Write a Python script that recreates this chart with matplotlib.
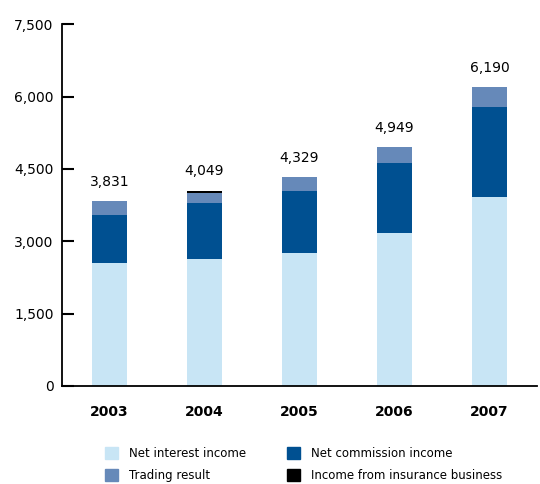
import numpy as np
import matplotlib
matplotlib.use("Agg")
import matplotlib.pyplot as plt
from matplotlib.patches import Patch

years = ["2003", "2004", "2005", "2006", "2007"]
net_interest = [2550, 2631, 2760, 3176, 3922]
net_commission = [993, 1161, 1284, 1445, 1859]
trading = [288, 207, 285, 328, 409]
insurance = [0, 50, 0, 0, 0]
y_ticks = [0, 1500, 3000, 4500, 6000, 7500]

c_interest = "#C8E5F5"
c_commission = "#005091"
c_trading = "#6689B9"
c_insurance = "#000000"

fig = plt.figure(figsize=(5.4, 4.84), dpi=100)
ax = fig.add_axes([0.1148, 0.2025, 0.8796, 0.7475])

x = np.arange(len(years))
w = 0.36
b1 = np.array(net_interest)
b2 = b1 + np.array(net_commission)
b3 = b2 + np.array(trading)
ax.bar(x, net_interest, w, color=c_interest)
ax.bar(x, net_commission, w, bottom=b1, color=c_commission)
ax.bar(x, trading, w, bottom=b2, color=c_trading)
ax.bar(x, insurance, w, bottom=b3, color=c_insurance)

# totals above each bar
totals = b3 + np.array(insurance)
for xi, t in zip(x, totals):
    ax.annotate(f"{t:,}", (xi, t), xytext=(0, 9), textcoords="offset points",
                ha="center", va="bottom", fontsize=10)

ax.set_xlim(-0.5, 4.5)
ax.set_ylim(0, 7500)
ax.set_yticks(y_ticks)
ax.set_yticklabels([f"{v:,}" for v in y_ticks], fontsize=10)
ax.set_xticks(x)
ax.set_xticklabels(years, fontsize=10, fontweight="bold")
ax.tick_params(axis="y", direction="in", length=8.5, width=1.5, pad=6)
ax.tick_params(axis="x", length=0, pad=14)
for s in ["top", "right"]:
    ax.spines[s].set_visible(False)
for s in ["left", "bottom"]:
    ax.spines[s].set_linewidth(1.3)

handles = [Patch(color=c_interest, label="Net interest income"),
           Patch(color=c_trading, label="Trading result"),
           Patch(color=c_commission, label="Net commission income"),
           Patch(color=c_insurance, label="Income from insurance business")]
fig.legend(handles=handles, ncol=2, loc="upper left",
           bbox_to_anchor=(105 / 540, 1 - 447 / 484), frameon=False,
           fontsize=8.5, handlelength=1.1, handleheight=1.1, handletextpad=0.9,
           labelspacing=0.75, columnspacing=3.5, borderpad=0, borderaxespad=0)

fig.savefig("out.png", dpi=100)
